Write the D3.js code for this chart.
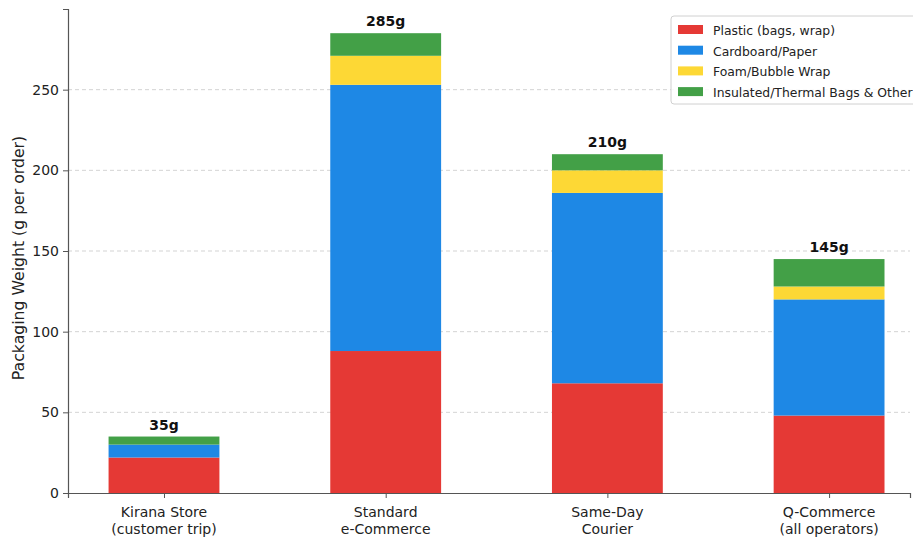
<!DOCTYPE html>
<html>
<head>
<meta charset="utf-8">
<script src="https://cdn.jsdelivr.net/npm/d3@7"></script>
<style>
  html, body { margin: 0; padding: 0; background: #fff; }
  svg { display: block; font-family: "DejaVu Sans", sans-serif; }
</style>
</head>
<body>
<svg id="chart" width="913" height="539"></svg>
<script>
// Channels and packaging materials (grams per order)
const categories = [
  ["Kirana Store", "(customer trip)"],
  ["Standard", "e-Commerce"],
  ["Same-Day", "Courier"],
  ["Q-Commerce", "(all operators)"]
];
const seriesNames = ["Plastic (bags, wrap)", "Cardboard/Paper", "Foam/Bubble Wrap", "Insulated/Thermal Bags & Other"];
const plastic   = [22, 88, 68, 48];
const cardboard = [8, 165, 118, 72];
const foam      = [0, 18, 14, 8];
const other     = [5, 14, 10, 17];
const totals    = [35, 285, 210, 145];
const yTicks    = [0, 50, 100, 150, 200, 250];
const colors    = ["#e53935", "#1e88e5", "#fdd835", "#43a047"];

const svg = d3.select("#chart");
const plotLeft = 68, plotRight = 910, plotTop = 9, plotBottom = 493;

const x = d3.scaleLinear().domain([-0.433, 3.365]).range([plotLeft, plotRight]);
const y = d3.scaleLinear().domain([0, 300]).range([plotBottom, plotTop]);
const barW = x(0.5) - x(0);

// grid
svg.append("g").selectAll("line").data(yTicks.filter(d => d > 0)).join("line")
  .attr("x1", plotLeft).attr("x2", plotRight)
  .attr("y1", d => y(d)).attr("y2", d => y(d))
  .attr("stroke", "#c8c8c8").attr("stroke-width", 0.8)
  .attr("stroke-dasharray", "4,3");

// stacked bars
const rows = categories.map((c, i) => ({
  i, p: plastic[i], c: cardboard[i], f: foam[i], o: other[i]
}));
const stack = d3.stack().keys(["p", "c", "f", "o"])(rows);

svg.append("g").selectAll("g").data(stack).join("g")
  .attr("fill", (d, k) => colors[k])
  .selectAll("rect").data(d => d).join("rect")
  .attr("x", d => x(d.data.i) - barW / 2)
  .attr("width", barW)
  .attr("y", d => y(d[1]))
  .attr("height", d => Math.max(0, y(d[0]) - y(d[1])));

// total labels
svg.append("g").selectAll("text").data(totals).join("text")
  .attr("x", (d, i) => x(i))
  .attr("y", d => y(d) - 7)
  .attr("text-anchor", "middle")
  .attr("font-size", 14).attr("font-weight", "bold").attr("fill", "#111")
  .text(d => d + "g");

// axes
const yAxis = d3.axisLeft(y).tickValues(yTicks).tickSize(5).tickPadding(4);
const gy = svg.append("g").attr("transform", `translate(${plotLeft},0)`).call(yAxis);
gy.select(".domain").attr("stroke", "#555").attr("stroke-width", 1.2);
gy.selectAll(".tick line").attr("stroke", "#555");
gy.selectAll(".tick text").attr("font-size", 14).attr("fill", "#222")
  .attr("font-family", "DejaVu Sans, sans-serif");

const xAxis = d3.axisBottom(x).tickValues([0, 1, 2, 3]).tickSize(5).tickFormat("");
const gx = svg.append("g").attr("transform", `translate(0,${plotBottom})`).call(xAxis);
gx.select(".domain").attr("stroke", "#555").attr("stroke-width", 1.2);
gx.selectAll(".tick line").attr("stroke", "#555");

const xl = svg.append("g").selectAll("text").data(categories).join("text")
  .attr("x", (d, i) => x(i))
  .attr("text-anchor", "middle")
  .attr("font-size", 14).attr("fill", "#222");
xl.append("tspan").attr("x", (d, i) => x(i)).attr("y", 517).text(d => d[0]);
xl.append("tspan").attr("x", (d, i) => x(i)).attr("y", 534).text(d => d[1]);

// y label
svg.append("text")
  .attr("transform", `translate(24,258) rotate(-90)`)
  .attr("text-anchor", "middle")
  .attr("font-size", 15.7).attr("fill", "#222")
  .text("Packaging Weight (g per order)");

// legend
const lg = svg.append("g").attr("transform", "translate(671,16)");
lg.append("rect").attr("width", 250).attr("height", 88).attr("rx", 3)
  .attr("fill", "#fff").attr("fill-opacity", 0.85)
  .attr("stroke", "#d0d0d0");
const li = lg.selectAll("g").data(seriesNames).join("g")
  .attr("transform", (d, i) => `translate(7,${14 + i * 20.7})`);
li.append("rect").attr("x", 0).attr("y", -5).attr("width", 25).attr("height", 9)
  .attr("fill", (d, i) => colors[i]);
li.append("text").attr("x", 35).attr("y", 5).attr("font-size", 12.4).attr("fill", "#222")
  .text(d => d);
</script>
</body>
</html>
